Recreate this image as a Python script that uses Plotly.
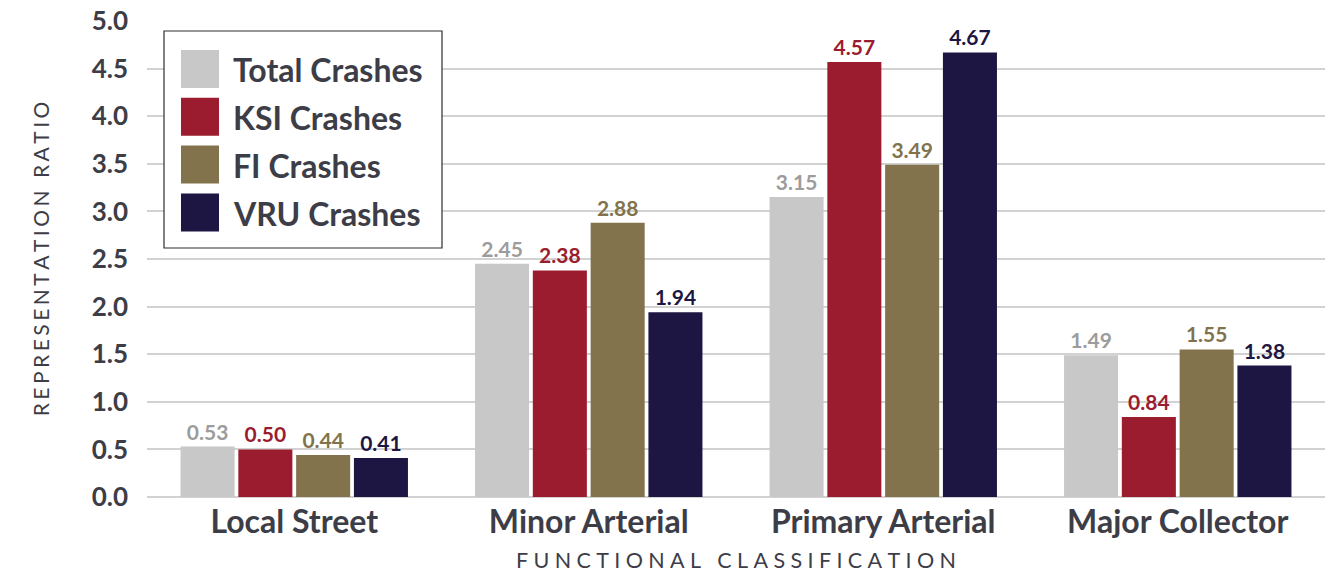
import plotly.graph_objects as go

categories = ["Local Street", "Minor Arterial", "Primary Arterial", "Major Collector"]
series_names = ["Total Crashes", "KSI Crashes", "FI Crashes", "VRU Crashes"]
total_crashes = [0.53, 2.45, 3.15, 1.49]
ksi_crashes = [0.50, 2.38, 4.57, 0.84]
fi_crashes = [0.44, 2.88, 3.49, 1.55]
vru_crashes = [0.41, 1.94, 4.67, 1.38]
y_ticks = [0.0, 0.5, 1.0, 1.5, 2.0, 2.5, 3.0, 3.5, 4.0, 4.5, 5.0]

bar_colors = ["#C8C8C8", "#9B1C2E", "#82734D", "#1E1642"]
label_colors = ["#9C9C9C", "#9B1C2E", "#82734D", "#1E1642"]
ink = "#3D3D47"
font_family = "Lato, 'Open Sans', sans-serif"


def spaced(text, gap="\u2005"):
    # letter-spaced axis titles
    return gap.join(text)


fig = go.Figure()
for name, values, color, lcolor in zip(
    series_names, [total_crashes, ksi_crashes, fi_crashes, vru_crashes], bar_colors, label_colors
):
    fig.add_trace(
        go.Bar(
            name=name,
            x=categories,
            y=values,
            marker=dict(color=color, line=dict(width=0)),
            text=[f"{v:.2f}" for v in values],
            textposition="outside",
            textfont=dict(family=font_family, size=21, color=lcolor, weight="bold"),
            cliponaxis=False,
            showlegend=False,
        )
    )

# Legend panel built from shapes and annotations (large square swatches)
lx0, lx1, ly0, ly1 = 164, 442, 31, 248
W, H = 1339, 575
ml, mr, mt, mb = 147, 14, 21, 78
pw, ph = W - ml - mr, H - mt - mb


def px_x(x):
    return (x - ml) / pw


def px_y(y):
    return 1 - (y - mt) / ph


fig.add_shape(
    type="rect", xref="paper", yref="paper",
    x0=px_x(lx0), x1=px_x(lx1), y0=px_y(ly1), y1=px_y(ly0),
    line=dict(color="#2E2E33", width=1.2), fillcolor="white", layer="above",
)
for i, (name, color) in enumerate(zip(series_names, bar_colors)):
    cy = 69 + i * 47.8
    fig.add_shape(
        type="rect", xref="paper", yref="paper",
        x0=px_x(181), x1=px_x(219), y0=px_y(cy + 19), y1=px_y(cy - 19),
        line=dict(width=0), fillcolor=color, layer="above",
    )
    fig.add_annotation(
        xref="paper", yref="paper", x=px_x(231), y=px_y(cy + 1),
        text=name, showarrow=False, xanchor="left", yanchor="middle",
        font=dict(family=font_family, size=32, color=ink, weight="bold"),
    )

fig.update_layout(
    width=W, height=H,
    margin=dict(l=ml, r=mr, t=mt, b=mb, pad=0, autoexpand=False),
    paper_bgcolor="white", plot_bgcolor="white",
    barmode="group", bargap=0.215, bargroupgap=0.065,
    font=dict(family=font_family, color=ink),
    xaxis=dict(
        automargin=False,
        tickfont=dict(family=font_family, size=32, color=ink, weight="bold"),
        showgrid=False, showline=False, ticks="", ticklabelstandoff=3,
        title=dict(text=spaced("FUNCTIONAL CLASSIFICATION"),
                   font=dict(family=font_family, size=21.5, color=ink), standoff=13),
    ),
    yaxis=dict(
        automargin=False,
        range=[0, 5], tickvals=y_ticks, ticktext=[f"{t:.1f}" for t in y_ticks],
        tickfont=dict(family=font_family, size=26, color=ink, weight="bold"),
        showgrid=True, gridcolor="#D2D2D2", gridwidth=1.5,
        zeroline=True, zerolinecolor="#D2D2D2", zerolinewidth=1.5,
        showline=False, ticks="", ticklabelstandoff=18,
        title=dict(text=spaced("REPRESENTATION RATIO", "\u2006"),
                   font=dict(family=font_family, size=21, color=ink), standoff=36),
    ),
)

fig.write_html("out.html")
